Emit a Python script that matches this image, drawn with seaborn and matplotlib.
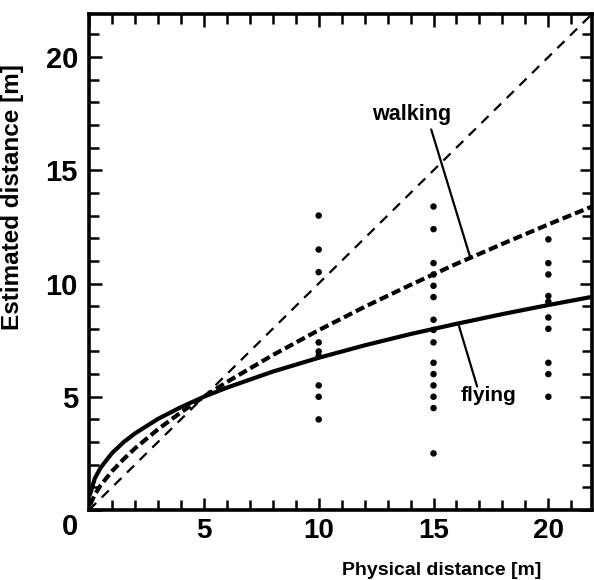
import numpy as np
import pandas as pd
import matplotlib
matplotlib.use("Agg")
import matplotlib.pyplot as plt
import matplotlib.transforms as mtransforms
from matplotlib.ticker import MultipleLocator
import seaborn as sns

# ---- data ----
# scattered individual estimates
dots_x = [10]*9 + [15]*15 + [20]*10
dots_y = [13.0, 11.5, 10.5, 7.4, 7.0, 6.8, 5.5, 5.0, 4.0,
          13.4, 12.4, 10.9, 10.4, 9.9, 9.4, 8.4, 7.95, 7.4, 6.5, 6.0, 5.5, 5.0, 4.5, 2.5,
          11.95, 10.9, 10.4, 9.45, 9.2, 8.5, 8.0, 6.5, 6.0, 5.0]

# fitted curves
curve_x = [0.05, 0.25, 0.5, 1, 1.5, 2, 3, 4, 5, 6, 8, 10, 12, 14, 16, 18, 20, 22]
flying_y = [0.70, 1.39, 1.86, 2.51, 2.99, 3.38, 4.02, 4.54, 5.00, 5.40, 6.11, 6.72,
            7.27, 7.77, 8.22, 8.65, 9.05, 9.43]
walking_y = [0.23, 0.68, 1.08, 1.71, 2.24, 2.72, 3.56, 4.31, 5.00, 5.65, 6.84, 7.94,
             8.97, 9.94, 10.87, 11.75, 12.61, 13.44]
diag_x = [0, 22]
diag_y = [0, 22]

x_ticks = [0, 5, 10, 15, 20]
y_ticks = [0, 5, 10, 15, 20]
x_ticklabels = ["", "5", "10", "15", "20"]
y_ticklabels = ["0", "5", "10", "15", "20"]

# ---- plotting ----
sns.set_style("ticks")
plt.rcParams["font.family"] = ["Liberation Sans", "DejaVu Sans"]
plt.rcParams["font.weight"] = "bold"
plt.rcParams["text.color"] = "black"
plt.rcParams["axes.labelcolor"] = "black"
plt.rcParams["xtick.color"] = "black"
plt.rcParams["ytick.color"] = "black"

fig = plt.figure(figsize=(5.94, 5.80), dpi=100)
ax = fig.add_axes([89/594, 1 - 510/580, (592 - 89)/594, (510 - 14)/580])

dots = pd.DataFrame({"x": dots_x, "y": dots_y})
curves = pd.DataFrame({"x": curve_x, "flying": flying_y, "walking": walking_y})
diag = pd.DataFrame({"x": diag_x, "y": diag_y})

sns.lineplot(data=diag, x="x", y="y", ax=ax, color="black", lw=1.6,
             linestyle=(0, (4.5, 3.5)), estimator=None, sort=False)
sns.lineplot(data=curves, x="x", y="walking", ax=ax, color="black", lw=3.0,
             linestyle=(0, (2.2, 1.0)), estimator=None, sort=False)
sns.lineplot(data=curves, x="x", y="flying", ax=ax, color="black", lw=3.0,
             estimator=None, sort=False)
sns.scatterplot(data=dots, x="x", y="y", ax=ax, color="black", s=22,
                edgecolor="none", zorder=5)

# annotations
ax.text(14.05, 17.45, "walking", ha="center", va="center", fontsize=15.5,
        fontweight="bold", color="black")
ax.plot([14.9, 16.6], [16.8, 11.15], color="black", lw=1.6)
ax.text(17.4, 5.05, "flying", ha="center", va="center", fontsize=15,
        fontweight="bold", color="black")
ax.plot([16.1, 16.9], [8.15, 5.45], color="black", lw=1.6)

ax.set_xlim(0, 21.9)
ax.set_ylim(0, 21.9)
ax.set_xticks(x_ticks)
ax.set_yticks(y_ticks)
ax.set_xticklabels(x_ticklabels, fontsize=20, fontweight="bold", color="black")
ax.set_yticklabels(y_ticklabels, fontsize=21, fontweight="bold", color="black")
ax.xaxis.set_minor_locator(MultipleLocator(1))
ax.yaxis.set_minor_locator(MultipleLocator(1))
ax.tick_params(which="both", direction="in", top=True, right=True,
               width=1.8, color="black")
ax.tick_params(which="major", length=9, pad=6)
ax.tick_params(which="minor", length=7)
ax.tick_params(axis="y", which="major", pad=8)

# shift the corner "0" label down
lbl0 = ax.get_yticklabels()[0]
lbl0.set_transform(lbl0.get_transform() +
                   mtransforms.ScaledTranslation(0, -14/100, fig.dpi_scale_trans))

for sp in ax.spines.values():
    sp.set_linewidth(2.6)
    sp.set_color("black")
    sp.set_visible(True)

ax.set_xlabel("Physical distance [m]", fontsize=14, fontweight="bold",
              color="black")
ax.set_ylabel("Estimated distance [m]", fontsize=17.5, fontweight="bold",
              color="black")
ax.xaxis.set_label_coords((442 - 89)/503, -(562 - 510)/496)
ax.yaxis.set_label_coords(-(89 - 24)/503, (510 - 197)/496)

fig.savefig("out.png", dpi=100)
